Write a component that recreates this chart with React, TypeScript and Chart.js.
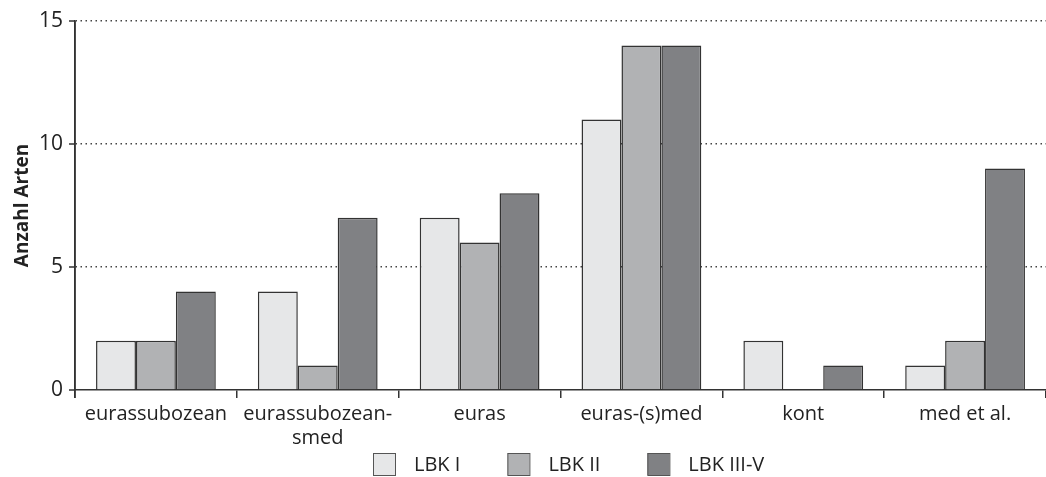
import React, { useEffect, useRef } from "react";
import { Chart, registerables } from "chart.js";

Chart.register(...registerables);

const categories: (string | string[])[] = [
  "eurassubozean",
  ["eurassubozean-", "smed"],
  "euras",
  "euras-(s)med",
  "kont",
  "med et al.",
];
const lbk1 = [2, 4, 7, 11, 2, 1];
const lbk2 = [2, 1, 6, 14, 0, 2];
const lbk3 = [4, 7, 8, 14, 1, 9];
const seriesNames = ["LBK I", "LBK II", "LBK III-V"];
const seriesColors = ["#e6e7e8", "#b1b2b4", "#808184"];
const yTicks = [0, 5, 10, 15];

const FONT = "'Open Sans', 'Noto Sans', sans-serif";

export default function App() {
  const ref = useRef<HTMLCanvasElement | null>(null);
  useEffect(() => {
    if (!ref.current) return;
    const values = [lbk1, lbk2, lbk3];
    const chart = new Chart(ref.current, {
      type: "bar",
      data: {
        labels: categories,
        datasets: values.map((v, i) => ({
          label: seriesNames[i],
          data: v,
          backgroundColor: seriesColors[i],
          borderColor: "#333333",
          borderWidth: 1.5,
          barPercentage: 1,
          categoryPercentage: 0.74,
        })),
      },
      options: {
        responsive: false,
        animation: false,
        layout: { padding: { top: 0, right: 0, left: 0, bottom: 27 } },
        plugins: {
          tooltip: { enabled: false },
          legend: { display: false },
        },
        scales: {
          x: {
            offset: true,
            grid: {
              offset: true,
              drawOnChartArea: false,
              drawTicks: true,
              tickLength: 8,
              color: "#333",
              lineWidth: 1.5,
            },
            border: { display: true, color: "#333", width: 1.5 },
            ticks: {
              color: "#222",
              font: { family: FONT, size: 20, lineHeight: 1.2 },
              maxRotation: 0,
              autoSkip: false,
              padding: 4,
            },
            afterFit: (s: any) => {
              s.height = 60;
            },
          },
          y: {
            min: 0,
            max: 15,
            afterBuildTicks: (s: any) => {
              s.ticks = yTicks.map((v) => ({ value: v }));
            },
            grid: {
              color: (ctx: any) => (ctx.tick && ctx.tick.value === 0 ? "rgba(0,0,0,0)" : "#444"),
              lineWidth: 1.5,
              drawTicks: false,
              tickLength: 0,
            },
            border: { display: true, color: "#333", width: 1.5, dash: [1.5, 3.5] },
            ticks: {
              color: "#222",
              font: { family: FONT, size: 21 },
              padding: 12,
            },
            title: {
              display: true,
              text: "Anzahl Arten",
              color: "#222",
              font: { family: FONT, size: 19, weight: "bold" },
              padding: { top: 11, bottom: 0 },
            },
            afterFit: (s: any) => {
              s.width = 75;
              s.paddingTop = 21;
              s.paddingBottom = 0;
            },
          },
        },
      },
      plugins: [
        {
          id: "yTickMarks",
          afterDraw: (c: any) => {
            const ctx = c.ctx;
            const y = c.scales.y;
            const left = c.chartArea.left;
            ctx.save();
            ctx.setLineDash([]);
            ctx.strokeStyle = "#333";
            ctx.lineWidth = 1.5;
            ctx.beginPath();
            ctx.moveTo(left, c.chartArea.top);
            ctx.lineTo(left, c.chartArea.bottom + 8);
            yTicks.forEach((v) => {
              const py = y.getPixelForValue(v);
              ctx.moveTo(left - 6, py);
              ctx.lineTo(left, py);
            });
            ctx.stroke();
            ctx.restore();
          },
        },
        {
          id: "customLegend",
          afterDraw: (c: any) => {
            const ctx = c.ctx;
            ctx.save();
            ctx.font = `20px ${FONT}`;
            ctx.textBaseline = "middle";
            ctx.textAlign = "left";
            const box = 22;
            const gapText = 19;
            const gapItem = 47;
            let x = 373;
            const yTop = 453;
            seriesNames.forEach((n, i) => {
              ctx.fillStyle = seriesColors[i];
              ctx.fillRect(x, yTop, box, box);
              ctx.strokeStyle = "#555";
              ctx.lineWidth = 1;
              ctx.strokeRect(x + 0.5, yTop + 0.5, box, box);
              ctx.fillStyle = "#222";
              ctx.fillText(n, x + box + gapText, yTop + box / 2 + 1);
              x += box + gapText + ctx.measureText(n).width + gapItem;
            });
            ctx.restore();
          },
        },
      ],
    });
    return () => chart.destroy();
  }, []);
  return (
    <div style={{ position: "fixed", left: 0, top: 0, width: 1046, height: 477, background: "#fff" }}>
      <canvas ref={ref} width={1046} height={477} />
    </div>
  );
}
